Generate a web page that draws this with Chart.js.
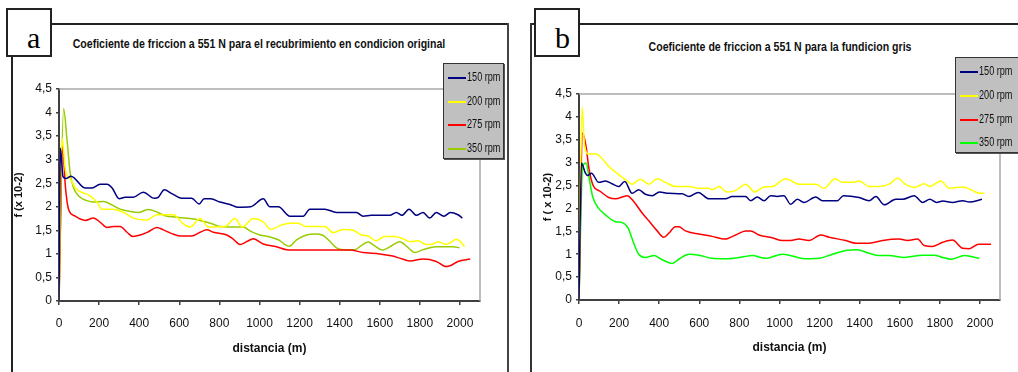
<!DOCTYPE html>
<html lang="es">
<head>
    <meta charset="UTF-8">
    <title>Coeficiente de friccion a 551 N</title>
    <script src="https://cdn.jsdelivr.net/npm/chart.js"></script>
    <style>
        body {
            margin: 0;
            width: 1018px;
            height: 372px;
            background: #fff;
            position: relative;
            overflow: hidden;
            font-family: 'Liberation Sans Narrow', 'Arial Narrow', 'Liberation Sans', sans-serif;
        }
        canvas { position: absolute; top: 0; }
        .line { position: absolute; background: #222; }
        .tag {
            position: absolute;
            box-sizing: border-box;
            border: 2px solid #222;
            background: #fff;
            font-family: 'Liberation Serif', 'DejaVu Serif', serif;
            font-size: 30px;
            line-height: 1;
        }
        .tag span { position: absolute; }
        .title {
            position: absolute;
            font-weight: bold;
            font-size: 12px;
            white-space: nowrap;
            transform: translate(-50%, -50%) scaleX(0.88);
            color: #111;
        }
        .legend {
            position: absolute;
            box-sizing: border-box;
            background: #c0c0c0;
            border: 1px solid #333;
            box-shadow: 1px 1px 0 #555;
            font-size: 12px;
        }
        .legend .item { position: absolute; left: 0; white-space: nowrap; }
        .legend .swatch { position: absolute; left: 4px; width: 18px; height: 2px; top: -1px; }
        .legend .txt {
            position: absolute; left: 23px; top: -8px; color: #111;
            transform: scaleX(0.76); transform-origin: left center;
        }
    </style>
</head>
<body>
    <!-- panel a frame -->
    <div class="line" style="left:51px;top:23px;width:458px;height:2px"></div>
    <div class="line" style="left:507px;top:23px;width:1.5px;height:349px;background:#444"></div>
    <div class="line" style="left:11px;top:56px;width:1.5px;height:316px"></div>
    <div class="tag" style="left:6px;top:8px;width:46px;height:49px"><span style="left:19px;top:13px">a</span></div>
    <div class="title" style="left:259px;top:44px">Coeficiente de friccion a 551 N para el recubrimiento en condicion original</div>

    <!-- panel b frame -->
    <div class="line" style="left:530px;top:23px;width:488px;height:2px"></div>
    <div class="line" style="left:530px;top:23px;width:1.5px;height:349px;background:#333"></div>
    <div class="tag" style="left:534px;top:8px;width:46px;height:49px"><span style="left:19px;top:13px">b</span></div>
    <div class="title" style="left:780px;top:47px">Coeficiente de friccion a 551 N para la fundicion gris</div>

    <canvas id="chartA" width="509" height="372" style="left:0"></canvas>
    <canvas id="chartB" width="509" height="372" style="left:509px"></canvas>

    <div class="legend" id="legendA" style="left:443px;top:63px;width:61px;height:96px"></div>
    <div class="legend" id="legendB" style="left:955px;top:57px;width:70px;height:96px"></div>

    <script>
        const seriesNames = ['150 rpm', '200 rpm', '275 rpm', '350 rpm'];
        const colorsA = ['#000080', '#ffff00', '#ff0000', '#99cc00'];
        const colorsB = ['#000080', '#ffff00', '#ff0000', '#00ff00'];
        const yTicks = [0, 0.5, 1, 1.5, 2, 2.5, 3, 3.5, 4, 4.5];
        const xTicks = [0, 200, 400, 600, 800, 1000, 1200, 1400, 1600, 1800, 2000];

        // panel a: recubrimiento en condicion original  [distancia (m), f (x 10-2)]
        const a150 = [[0,0],[7,3.25],[20,2.64],[35,2.6],[60,2.65],[130,2.4],[165,2.4],[205,2.48],[240,2.48],[265,2.4],
            [300,2.17],[330,2.2],[370,2.2],[420,2.31],[475,2.18],[495,2.2],[525,2.36],[563,2.28],[612,2.18],[662,2.18],
            [699,2.06],[724,2.17],[757,2.17],[803,2.1],[853,2.05],[890,1.99],[956,2.0],[1019,2.17],[1052,2.0],[1094,2.0],
            [1152,1.8],[1218,1.8],[1251,1.95],[1326,1.95],[1384,1.88],[1484,1.88],[1517,1.8],[1558,1.82],[1650,1.82],[1683,1.88],
            [1711,1.82],[1746,1.95],[1783,1.82],[1816,1.88],[1849,1.76],[1882,1.88],[1920,1.8],[1952,1.88],[1990,1.83],[2012,1.76]];
        const a200 = [[0,0],[15,3.46],[33,2.75],[56,2.6],[81,2.4],[123,2.29],[148,2.25],[189,2.1],[214,1.95],[264,1.95],
            [322,1.88],[372,1.76],[438,1.72],[488,1.83],[538,1.83],[571,1.83],[617,1.65],[654,1.57],[704,1.75],[745,1.57],
            [828,1.58],[878,1.75],[914,1.57],[969,1.75],[1019,1.68],[1056,1.52],[1102,1.6],[1152,1.65],[1193,1.65],[1232,1.58],
            [1326,1.58],[1368,1.45],[1417,1.52],[1467,1.5],[1509,1.4],[1542,1.38],[1580,1.28],[1625,1.37],[1675,1.37],[1716,1.32],
            [1753,1.26],[1791,1.28],[1832,1.2],[1857,1.2],[1890,1.26],[1932,1.2],[1957,1.25],[1982,1.31],[2000,1.27],[2023,1.15]];
        const a275 = [[0,0],[18,3.27],[32,2.42],[48,1.94],[81,1.8],[106,1.74],[131,1.71],[172,1.76],[206,1.67],[239,1.56],
            [272,1.58],[305,1.58],[339,1.46],[368,1.37],[405,1.4],[446,1.47],[488,1.56],[521,1.51],[563,1.43],[604,1.38],
            [662,1.38],[704,1.46],[737,1.51],[770,1.46],[837,1.4],[870,1.31],[903,1.2],[936,1.26],[969,1.32],[1019,1.21],
            [1085,1.15],[1135,1.09],[1201,1.08],[1367,1.08],[1450,1.08],[1517,1.03],[1600,1.0],[1658,0.96],[1700,0.91],[1749,0.85],
            [1816,0.89],[1882,0.84],[1932,0.73],[1957,0.76],[1990,0.84],[2051,0.89]];
        const a350 = [[0,0],[23,4.08],[40,3.42],[56,2.71],[73,2.4],[98,2.23],[139,2.13],[172,2.1],[222,2.11],[264,2.04],
            [305,1.95],[355,1.9],[397,1.88],[446,1.94],[488,1.89],[529,1.81],[587,1.78],[654,1.75],[704,1.71],[770,1.63],
            [803,1.58],[853,1.57],[919,1.57],[952,1.49],[1002,1.4],[1052,1.36],[1094,1.3],[1148,1.16],[1185,1.3],[1235,1.4],
            [1276,1.42],[1318,1.39],[1343,1.3],[1384,1.13],[1417,1.09],[1475,1.09],[1509,1.18],[1542,1.25],[1575,1.17],[1613,1.08],
            [1650,1.15],[1700,1.26],[1737,1.15],[1775,1.03],[1816,1.09],[1849,1.13],[1882,1.15],[1965,1.15],[1998,1.13]];

        // panel b: fundicion gris
        const b150 = [[0,0],[12,2.99],[32,2.77],[43,2.72],[62,2.77],[98,2.57],[132,2.6],[165,2.54],[198,2.48],[228,2.59],
            [265,2.33],[298,2.41],[331,2.31],[365,2.28],[401,2.36],[448,2.33],[515,2.32],[548,2.26],[595,2.35],[648,2.21],
            [731,2.21],[764,2.26],[831,2.26],[856,2.17],[889,2.25],[923,2.17],[956,2.28],[989,2.26],[1022,2.28],[1056,2.09],
            [1089,2.2],[1122,2.13],[1181,2.25],[1214,2.17],[1289,2.17],[1319,2.28],[1397,2.24],[1447,2.17],[1481,2.26],[1522,2.08],
            [1580,2.2],[1614,2.2],[1672,2.28],[1714,2.13],[1750,2.2],[1784,2.13],[1814,2.16],[1863,2.13],[1914,2.17],[1947,2.14],[2010,2.2]];
        const b200 = [[0,0],[15,4.21],[28,3.36],[48,3.19],[85,3.19],[148,2.92],[198,2.74],[231,2.63],[265,2.53],[306,2.64],
            [348,2.53],[390,2.65],[431,2.57],[481,2.48],[548,2.48],[598,2.44],[648,2.44],[664,2.41],[698,2.48],[739,2.36],
            [781,2.39],[831,2.53],[876,2.36],[923,2.47],[964,2.48],[1031,2.65],[1097,2.53],[1181,2.53],[1222,2.44],[1277,2.65],
            [1314,2.57],[1364,2.57],[1397,2.6],[1447,2.48],[1497,2.48],[1547,2.53],[1589,2.66],[1631,2.52],[1672,2.46],[1722,2.54],
            [1750,2.48],[1805,2.6],[1847,2.44],[1914,2.47],[1964,2.39],[1997,2.33],[2022,2.33]];
        const b275 = [[0,0],[18,3.65],[35,3.36],[48,2.92],[68,2.53],[107,2.37],[148,2.24],[182,2.21],[240,2.28],[273,2.15],
            [315,1.9],[348,1.73],[390,1.51],[423,1.37],[448,1.46],[481,1.6],[498,1.6],[531,1.51],[598,1.44],[664,1.39],
            [728,1.33],[781,1.42],[831,1.51],[856,1.51],[898,1.42],[964,1.36],[1014,1.3],[1056,1.3],[1097,1.33],[1147,1.3],
            [1206,1.42],[1248,1.37],[1331,1.3],[1381,1.24],[1447,1.24],[1514,1.3],[1597,1.33],[1639,1.3],[1689,1.33],[1722,1.19],
            [1764,1.17],[1814,1.26],[1863,1.31],[1914,1.13],[1947,1.12],[1993,1.22],[2055,1.22]];
        const b350 = [[0,0],[18,2.92],[35,2.99],[52,2.63],[68,2.26],[98,2.0],[132,1.86],[182,1.71],[215,1.69],[245,1.57],
            [273,1.24],[298,1.0],[331,0.93],[373,0.97],[415,0.88],[465,0.8],[498,0.89],[548,1.0],[598,0.98],[664,0.91],
            [731,0.9],[814,0.94],[864,0.97],[931,0.91],[1014,1.0],[1064,0.96],[1131,0.9],[1197,0.91],[1264,1.0],[1331,1.08],
            [1389,1.1],[1447,1.02],[1497,0.97],[1547,0.97],[1622,0.93],[1714,0.98],[1772,0.98],[1814,0.93],[1856,0.89],[1922,0.97],[1997,0.91]];

        Chart.defaults.font.family = "'Liberation Sans Narrow', 'Arial Narrow', 'Liberation Sans', sans-serif";
        Chart.defaults.font.size = 12;
        Chart.defaults.color = '#111';

        // gray top/right edge of the plot area
        const plotFrame = {
            id: 'plotFrame',
            beforeDatasetsDraw(chart) {
                const { ctx, chartArea: a } = chart;
                ctx.save();
                ctx.strokeStyle = '#a8a8a8';
                ctx.lineWidth = 1.5;
                ctx.beginPath();
                ctx.moveTo(a.left, a.top);
                ctx.lineTo(a.right, a.top);
                ctx.lineTo(a.right, a.bottom);
                ctx.stroke();
                ctx.restore();
            }
        };

        function makeDatasets(series, colors) {
            return series.map((pts, i) => ({
                label: seriesNames[i],
                data: pts.map(p => ({ x: p[0], y: p[1] })),
                borderColor: colors[i],
                borderWidth: 1.5,
                pointRadius: 0,
                fill: false,
                cubicInterpolationMode: 'monotone'
            }));
        }

        function makeChart(id, series, colors, box, yTitle) {
            // box: padding left/right/top/bottom and y axis width
            new Chart(document.getElementById(id), {
                type: 'line',
                data: { datasets: makeDatasets(series, colors) },
                options: {
                    responsive: false,
                    animation: false,
                    devicePixelRatio: 1,
                    layout: { padding: { left: box.left, right: box.right, top: box.top, bottom: box.bottom } },
                    plugins: { legend: { display: false }, tooltip: { enabled: false } },
                    scales: {
                        x: {
                            type: 'linear',
                            min: 0,
                            max: 2100,
                            afterBuildTicks: s => { s.ticks = xTicks.map(v => ({ value: v })); },
                            afterFit: s => { s.height = 60; },
                            ticks: {
                                padding: box.xPad, maxRotation: 0, autoSkip: false, color: '#111', font: { size: 12 },
                                callback: v => String(v)
                            },
                            grid: { drawOnChartArea: false, drawTicks: true, tickLength: 4, color: '#404040', lineWidth: 1.5 },
                            border: { color: '#404040', width: 2 },
                            title: { display: true, text: 'distancia (m)', font: { size: 12, weight: 'bold' }, padding: { top: 0, bottom: 5 }, color: '#111' }
                        },
                        y: {
                            min: 0,
                            max: 4.5,
                            afterBuildTicks: s => { s.ticks = yTicks.map(v => ({ value: v })); },
                            afterFit: s => { s.width = box.yWidth; },
                            ticks: {
                                padding: 4,
                                color: '#111',
                                font: { size: 12 },
                                callback: v => String(v).replace('.', ',')
                            },
                            grid: { drawOnChartArea: false, drawTicks: true, tickLength: 3, color: '#404040', lineWidth: 1.5 },
                            border: { color: '#404040', width: 2 },
                            title: { display: true, text: yTitle, font: { size: 11, weight: 'bold' }, padding: { top: 4, bottom: 0 }, color: '#111' }
                        }
                    }
                },
                plugins: [plotFrame]
            });
        }

        function makeLegend(id, colors, spacing) {
            const el = document.getElementById(id);
            seriesNames.forEach((name, i) => {
                const item = document.createElement('div');
                item.className = 'item';
                item.style.top = (14 + i * spacing) + 'px';
                item.innerHTML = '<span class="swatch" style="background:' + colors[i] + '"></span><span class="txt">' + name + '</span>';
                el.appendChild(item);
            });
        }

        makeChart('chartA', [a150, a200, a275, a350], colorsA,
            { left: 8, right: 29, top: 89, bottom: 11, yWidth: 51, xPad: 11 }, 'f (x 10-2)');
        makeChart('chartB', [b150, b200, b275, b350], colorsB,
            { left: 28, right: 18, top: 94, bottom: 12, yWidth: 42, xPad: 12 }, 'f ( x 10-2)');

        makeLegend('legendA', colorsA, 23.7);
        makeLegend('legendB', colorsB, 23.8);
    </script>
</body>
</html>
